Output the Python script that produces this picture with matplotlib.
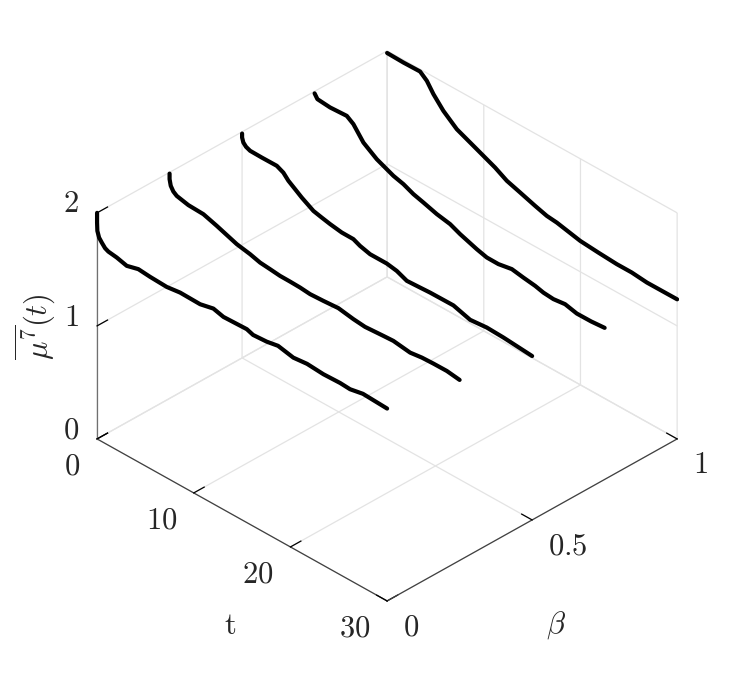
import matplotlib
matplotlib.use('Agg')
import matplotlib.pyplot as plt
from mpl_toolkits.mplot3d import proj3d

plt.rcParams['mathtext.fontset'] = 'cm'

# one curve per beta
betas = [0, 0.25, 0.5, 0.75, 1]

t0 = [0, 0, 0.03, 0.21, 0.49, 0.83, 1.17, 2.04, 3.07, 4.27, 5.48, 7.21, 8.59, 10.66, 12.03, 13.07,
      15.49, 16.14, 17.55, 18.72, 20.3, 21.72, 23.41, 25.14, 26.17, 27.5, 30]
mu0 = [2.0, 1.914, 1.842, 1.791, 1.760, 1.727, 1.713, 1.702, 1.678, 1.706, 1.696, 1.689, 1.705, 1.701, 1.728, 1.704,
       1.711, 1.691, 1.699, 1.718, 1.689, 1.702, 1.691, 1.696, 1.690, 1.713, 1.702]

t1 = [0, 0, 0.12, 0.39, 0.74, 1.94, 3.5, 4.88, 6.95, 8.33, 9.36, 10.4, 11.43, 12.47, 13.5, 14.53, 15.91, 17.46, 19.01,
      20.22, 22.12, 23.15, 24.88, 26.1, 27.29, 28.68, 30]
mu1 = [1.989, 1.94, 1.887, 1.849, 1.827, 1.803, 1.797, 1.760, 1.697, 1.674, 1.649, 1.640, 1.630, 1.629, 1.626, 1.617, 1.623, 1.633, 1.610,
       1.599, 1.610, 1.615, 1.594, 1.608, 1.612, 1.613, 1.597]

t2 = [0, 0, 0.13, 0.41, 0.83, 2.04, 3.59, 4.27, 4.79, 5.48, 6.18, 7.38, 8.25, 9.1, 10.31, 11.51, 12.2, 13.24, 14.97, 16.0, 17.04,
      18.41, 19.45, 21.86, 23.59, 25.31, 27.03, 30]
mu2 = [1.985, 1.95, 1.912, 1.887, 1.872, 1.870, 1.871, 1.843, 1.796, 1.755, 1.713, 1.653, 1.635, 1.619, 1.602, 1.601, 1.574, 1.550, 1.550, 1.534, 1.496,
       1.502, 1.507, 1.509, 1.464, 1.478, 1.472, 1.450]

t3 = [0, 0.29, 1.6, 3.33, 4.01, 5.05, 6.43, 8.15, 9.19, 10.22, 11.26, 12.64, 14.02, 15.05, 16.78, 17.81, 19.01,
      20.4, 21.6, 22.81, 23.67, 24.7, 25.91, 27.12, 28.6, 30]
mu3 = [1.982, 1.945, 1.934, 1.942, 1.902, 1.788, 1.707, 1.642, 1.618, 1.579, 1.554, 1.518, 1.495, 1.456, 1.405, 1.381, 1.380,
       1.402, 1.384, 1.369, 1.350, 1.342, 1.355, 1.330, 1.331, 1.341]

t4 = [0, 1.69, 3.41, 4.11, 4.79, 5.82, 7.21, 8.59, 9.96, 11.17, 12.38, 13.76, 15.31, 16.52, 17.56, 19.97,
      21.86, 23.76, 25.3, 26.87, 30]
mu4 = [1.981, 1.977, 1.980, 1.931, 1.846, 1.747, 1.651, 1.599, 1.547, 1.501, 1.442, 1.404, 1.360, 1.329, 1.319, 1.273,
       1.259, 1.248, 1.248, 1.234, 1.235]

t_curves = [t0, t1, t2, t3, t4]
mu_curves = [mu0, mu1, mu2, mu3, mu4]

t_ticks = [0, 10, 20, 30]
t_labels = ['$0$', '$10$', '$20$', '$30$']
beta_ticks = [0, 0.5, 1]
beta_labels = ['$0$', '$0.5$', '$1$']
mu_ticks = [0, 1, 2]
mu_labels = ['$0$', '$1$', '$2$']

text_color = '#262626'

fig = plt.figure(figsize=(7.47, 6.74), dpi=100)
ax = fig.add_axes([79 / 747, 40 / 674, 600 / 747, 600 / 674], projection='3d', proj_type='ortho')
ax.set_box_aspect((1, 1, 0.6645), zoom=1.037)
ax.view_init(elev=33.96, azim=-45)

for b, t, mu in zip(betas, t_curves, mu_curves):
    ax.plot(t, [b] * len(t), mu, color='k', lw=3, solid_capstyle='round', solid_joinstyle='round')

ax.set_xlim(0, 30, view_margin=0)
ax.set_ylim(0, 1, view_margin=0)
ax.set_zlim(0, 2, view_margin=0)

ax.set_xticks(t_ticks)
ax.set_yticks(beta_ticks)
ax.set_zticks(mu_ticks)
ax.zaxis.set_ticks_position('lower')

for axis in (ax.xaxis, ax.yaxis, ax.zaxis):
    axis.set_tick_params(label1On=False, label2On=False)
    axis.set_pane_color((1, 1, 1, 0))
    axis.pane.set_edgecolor('none')
    axis.line.set_color('#404040')
    axis.line.set_linewidth(0.9)
    axis._axinfo['grid']['color'] = '#e3e3e3'
    axis._axinfo['grid']['linewidth'] = 0.9
    axis._axinfo['tick']['inward_factor'] = 0
    axis._axinfo['tick']['outward_factor'] = 0.45
    axis._axinfo['tick']['linewidth'] = {True: 0.9, False: 0.9}
    axis._axinfo['tick']['color'] = '#404040'
ax.zaxis.line.set_color('#707070')


def tick_text(x, y, z, s, ha):
    # project to the flat plane, so the label is a plain 2d text
    px, py, _ = proj3d.proj_transform(x, y, z, ax.get_proj())
    ax.text2D(px, py, s, transform=ax.transData, fontsize=22, ha=ha, va='center', color=text_color)


# tick labels sit off the box corners, as in the original
for v, s in zip(t_ticks, t_labels):
    tick_text(v, -0.058, -0.155, s, 'right')
for v, s in zip(beta_ticks, beta_labels):
    tick_text(30 * (1 + 16 / 290), v, -0.15, s, 'left')
for v, s in zip(mu_ticks, mu_labels):
    tick_text(-1.85, 0, v - 0.01, s, 'right')

ax.text2D(230 / 747, 1 - 625 / 674, r'$\mathrm{t}$', transform=fig.transFigure,
          fontsize=22, ha='center', va='center', color=text_color)
ax.text2D(556 / 747, 1 - 625 / 674, r'$\beta$', transform=fig.transFigure,
          fontsize=22, ha='center', va='center', color=text_color)
ax.text2D(35 / 747, 1 - 327 / 674, r'$\overline{\mu^7}(t)$', transform=fig.transFigure,
          fontsize=22, ha='center', va='center', rotation=90, color=text_color)

fig.savefig('out.png', dpi=100)
